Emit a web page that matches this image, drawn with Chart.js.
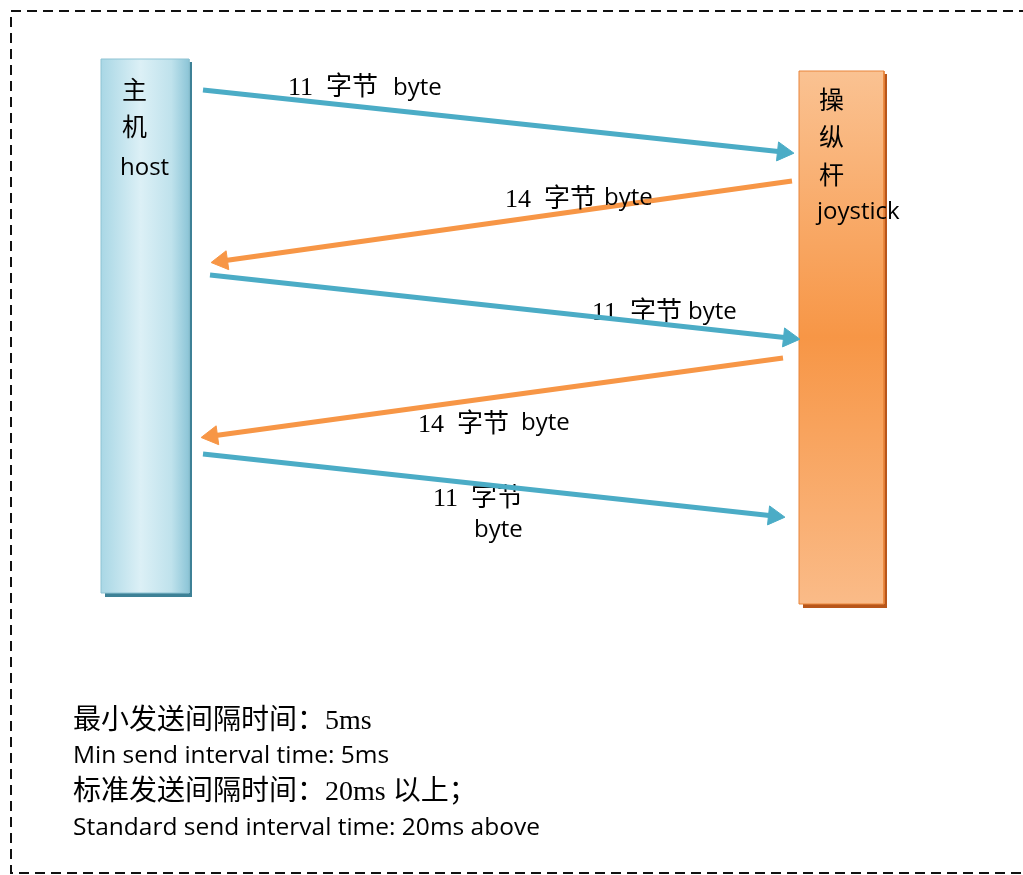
<!DOCTYPE html>
<html>
<head>
<meta charset="utf-8">
<script src="https://cdn.jsdelivr.net/npm/chart.js@4.4.1/dist/chart.umd.min.js"></script>
<style>
    html, body { margin: 0; padding: 0; background: #fff; }
    #wrap { width: 1023px; height: 875px; }
</style>
</head>
<body>
<div id="wrap"><canvas id="diagram" width="1023" height="875"></canvas></div>
<script>
// Boxes: host (left) and joystick (right), in page units
const boxLeft = [101, 799];
const boxRight = [189, 884];
const boxTop = [59, 71];
const boxBottom = [593, 604];
const boxText = [['主', '机', 'host'], ['操', '纵', '杆', 'joystick']];

// Messages: shaft start -> arrowhead centre
const msgFromX = [203, 792, 210, 783, 203];
const msgFromY = [90, 181, 275, 358, 454];
const msgToX = [783, 222, 789, 212, 774];
const msgToY = [152, 261, 338, 436, 516];
const msgBytes = [11, 14, 11, 14, 11];
const msgSender = ['host', 'joystick', 'host', 'joystick', 'host'];

// Dashed frame (right side runs off the page)
const frameX = [1045, 11, 11, 1045];
const frameY = [11, 11, 873, 873];

const notes = [
    '最小发送间隔时间：5ms',
    'Min send interval time: 5ms',
    '标准发送间隔时间：20ms 以上；',
    'Standard send interval time: 20ms above'
];

// ---- layout / styles ----
const BLUE = '#4bacc6';
const ORANGE = '#f79646';
const SANS = "'Open Sans', 'Noto Sans CJK SC', sans-serif";
const SERIF = "'Liberation Serif', 'Noto Sans CJK SC', serif";
const shadowOffset = 3;

const boxTextX = [122, 819];
const boxTextY = [[92, 129, 168], [102, 139, 177, 212]];
const msgLabelX = [288, 505, 592, 418, 433];
const msgLabelY = [88, 200, 313, 425, 499];
const byteX = [393, 604, 688, 521, 474];
const byteY = [88, 198, 312, 423, 530];
const msgLabelOnTop = [false, true, false, false, false];
const notesX = 73;
const notesY = [722, 756, 793, 828];

function pts(xs, ys) {
    return xs.map((x, i) => ({ x: x, y: ys[i] }));
}

// gradient for each box, built from the box arrays through the scales
function boxGradient(i) {
    return (c) => {
        const chart = c.chart;
        const sx = chart.scales.x, sy = chart.scales.y;
        if (!chart.chartArea || !sx || !sy) return i === 0 ? '#c8e6ef' : ORANGE;
        const ctx = chart.ctx;
        let g;
        if (i === 0) {
            g = ctx.createLinearGradient(sx.getPixelForValue(boxLeft[i]), 0, sx.getPixelForValue(boxRight[i]), 0);
            g.addColorStop(0, '#a9d7e5');
            g.addColorStop(0.45, '#dcf0f6');
            g.addColorStop(0.8, '#bfe2ec');
            g.addColorStop(1, '#8cc5d7');
        } else {
            g = ctx.createLinearGradient(0, sy.getPixelForValue(boxTop[i]), 0, sy.getPixelForValue(boxBottom[i]));
            g.addColorStop(0, '#fac292');
            g.addColorStop(0.5, '#f79646');
            g.addColorStop(1, '#fabb88');
        }
        return g;
    };
}

const datasets = [];

// frame
datasets.push({
    data: pts(frameX, frameY),
    borderColor: '#111',
    borderWidth: 2,
    borderDash: [10, 6],
    pointRadius: 0,
    fill: false,
    order: 30
});

boxLeft.forEach((l, i) => {
    const r = boxRight[i], t = boxTop[i], b = boxBottom[i];
    // shadow
    datasets.push({
        data: [{ x: l + shadowOffset + 1, y: t + shadowOffset }, { x: r + shadowOffset, y: t + shadowOffset }],
        borderWidth: 0,
        pointRadius: 0,
        backgroundColor: i === 0 ? '#3d8196' : '#b8561a',
        fill: { value: b + shadowOffset + 1 },
        order: 20
    });
    // body
    datasets.push({
        data: [{ x: l, y: t }, { x: r, y: t }],
        borderWidth: 0,
        pointRadius: 0,
        backgroundColor: boxGradient(i),
        fill: { value: b },
        order: 19
    });
    // outline
    datasets.push({
        data: pts([l, r, r, l, l], [t, t, b, b, t]),
        borderColor: i === 0 ? '#8ec3d3' : '#e8843a',
        borderWidth: 1,
        pointRadius: 0,
        fill: false,
        order: 18
    });
});

function headRotation(c) {
    const d = c.dataset.data;
    const sx = c.chart.scales.x, sy = c.chart.scales.y;
    const dx = sx.getPixelForValue(d[1].x) - sx.getPixelForValue(d[0].x);
    const dy = sy.getPixelForValue(d[1].y) - sy.getPixelForValue(d[0].y);
    return Math.atan2(dy, dx) * 180 / Math.PI + 90;
}

msgFromX.forEach((fx, i) => {
    const colour = msgSender[i] === 'host' ? BLUE : ORANGE;
    datasets.push({
        data: [{ x: fx, y: msgFromY[i] }, { x: msgToX[i], y: msgToY[i] }],
        borderColor: colour,
        borderWidth: 5,
        borderCapStyle: 'butt',
        pointStyle: 'triangle',
        pointRadius: [0, 11],
        pointHoverRadius: [0, 11],
        pointBackgroundColor: colour,
        pointBorderColor: colour,
        pointBorderWidth: 1,
        pointRotation: headRotation,
        fill: false,
        order: msgLabelOnTop[i] ? 5 : 1
    });
});

function drawMsgLabel(ctx, sx, sy, i) {
    ctx.font = '26px ' + SERIF;
    ctx.fillText(msgBytes[i] + '\u2002字节', sx.getPixelForValue(msgLabelX[i]), sy.getPixelForValue(msgLabelY[i]));
    ctx.font = '24px ' + SANS;
    ctx.fillText('byte', sx.getPixelForValue(byteX[i]), sy.getPixelForValue(byteY[i]));
}

const textPlugin = {
    id: 'diagramText',
    beforeDatasetsDraw(chart) {
        const { ctx, scales: { x, y } } = chart;
        ctx.save();
        ctx.fillStyle = '#000';
        ctx.textBaseline = 'middle';
        msgBytes.forEach((n, i) => { if (!msgLabelOnTop[i]) drawMsgLabel(ctx, x, y, i); });
        ctx.restore();
    },
    afterDatasetsDraw(chart) {
        const { ctx, scales: { x, y } } = chart;
        ctx.save();
        ctx.fillStyle = '#000';
        ctx.textBaseline = 'middle';
        msgBytes.forEach((n, i) => { if (msgLabelOnTop[i]) drawMsgLabel(ctx, x, y, i); });
        // box captions
        boxText.forEach((lines, i) => {
            lines.forEach((s, j) => {
                const latin = /^[a-z]/.test(s);
                ctx.font = latin ? '24px ' + SANS : '25px ' + SANS;
                ctx.fillText(s, x.getPixelForValue(boxTextX[i] - (latin ? 2 : 0)), y.getPixelForValue(boxTextY[i][j]));
            });
        });
        // notes
        notes.forEach((s, j) => {
            ctx.font = j % 2 === 0 ? '28px ' + SERIF : '24.5px ' + SANS;
            ctx.fillText(s, x.getPixelForValue(notesX), y.getPixelForValue(notesY[j]));
        });
        ctx.restore();
    }
};

new Chart(document.getElementById('diagram'), {
    type: 'line',
    data: { datasets: datasets },
    options: {
        responsive: false,
        animation: false,
        events: [],
        layout: { padding: 0, autoPadding: false },
        plugins: { legend: { display: false }, tooltip: { enabled: false } },
        scales: {
            x: { type: 'linear', min: 0, max: 1023, display: false },
            y: { type: 'linear', min: 0, max: 875, reverse: true, display: false }
        }
    },
    plugins: [textPlugin]
});
</script>
</body>
</html>
